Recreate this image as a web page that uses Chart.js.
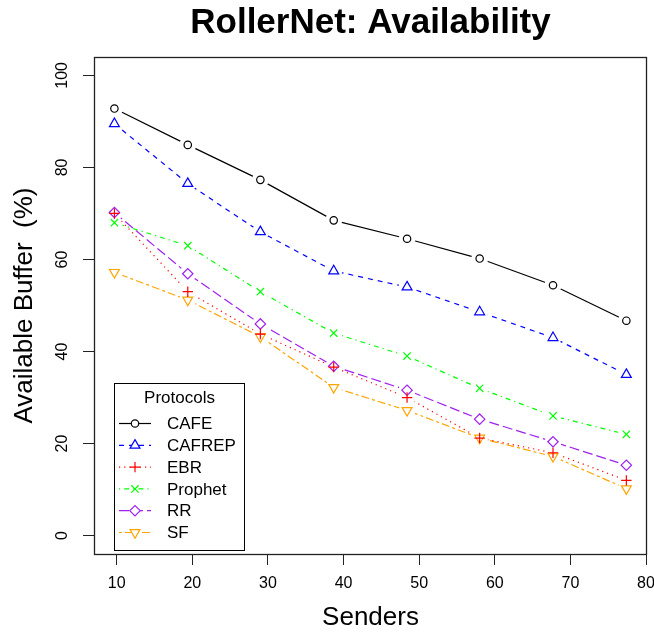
<!DOCTYPE html>
<html>
<head>
<meta charset="utf-8">
<script src="https://cdn.jsdelivr.net/npm/chart.js@4.4.0/dist/chart.umd.min.js"></script>
<style>
  html, body { margin: 0; padding: 0; background: #fff; }
  #wrap { width: 654px; height: 633px; }
</style>
</head>
<body>
<div id="wrap"><canvas id="chart" width="654" height="633"></canvas></div>
<script>
// values
const senders = [9.7, 19.4, 29.0, 38.7, 48.4, 58.0, 67.7, 77.4];
const cafe    = [92.8, 84.9, 77.3, 68.5, 64.5, 60.2, 54.4, 46.7];
const cafrep  = [89.5, 76.5, 66.0, 57.5, 54.0, 48.6, 43.0, 35.0];
const ebr     = [70.0, 53.0, 43.8, 36.6, 30.0, 21.2, 18.0, 12.0];
const prophet = [68.0, 63.0, 53.0, 44.0, 39.0, 32.0, 26.0, 22.0];
const rr      = [70.2, 56.9, 46.0, 36.8, 31.6, 25.3, 20.4, 15.3];
const sf      = [57.2, 51.2, 43.2, 32.2, 27.2, 21.2, 17.2, 10.2];

const protocols = ["CAFE", "CAFREP", "EBR", "Prophet", "RR", "SF"];
const xTicks = [10, 20, 30, 40, 50, 60, 70, 80];
const yTicks = [0, 20, 40, 60, 80, 100];

const STYLES = [
    { color: "#000000", dash: [],            point: "circle",   radius: 3.7, rotation: 0 },
    { color: "#0000ff", dash: [5, 5],        point: "triangle", radius: 5.7, rotation: 0 },
    { color: "#ff0000", dash: [1.2, 4],      point: "cross",    radius: 5.2, rotation: 0 },
    { color: "#00ff00", dash: [1.2, 4, 5, 4], point: "crossRot", radius: 5.2, rotation: 0 },
    { color: "#a020f0", dash: [10, 4],       point: "rectRot",  radius: 5.2, rotation: 0 },
    { color: "#ffa500", dash: [3, 3, 8, 3],  point: "triangle", radius: 5.7, rotation: 180 },
];
const GAP = 8.5;   // R type="b": lines stop short of the points
const FONT = "'Liberation Sans', Arial, Helvetica, sans-serif";

Chart.defaults.font.family = FONT;
Chart.defaults.color = "#000";

const seriesValues = [cafe, cafrep, ebr, prophet, rr, sf];
const datasets = [];
seriesValues.forEach((vals, i) => {
    const st = STYLES[i];
    const pts = senders.map((x, j) => ({ x: x, y: vals[j] }));
    datasets.push({
        label: protocols[i],
        data: pts,
        gapLine: true,
        borderColor: st.color,
        borderWidth: 1.2,
        borderDash: st.dash,
        pointRadius: 0,
        tension: 0,
        fill: false,
    });
    datasets.push({
        label: protocols[i] + " points",
        data: pts,
        showLine: false,
        pointStyle: st.point,
        pointRadius: st.radius,
        pointRotation: st.rotation,
        pointBorderColor: st.color,
        pointBackgroundColor: "rgba(0,0,0,0)",
        pointBorderWidth: 1.2,
    });
});

// cut holes round the points before a line dataset is drawn
const gapPlugin = {
    id: "gaps",
    beforeDatasetDraw(chart, args) {
        if (!chart.data.datasets[args.index].gapLine) return;
        const ctx = chart.ctx;
        ctx.save();
        ctx.beginPath();
        ctx.rect(0, 0, chart.width, chart.height);
        args.meta.data.forEach(p => {
            ctx.moveTo(p.x + GAP, p.y);
            ctx.arc(p.x, p.y, GAP, 0, Math.PI * 2);
        });
        ctx.clip("evenodd");
    },
    afterDatasetDraw(chart, args) {
        if (chart.data.datasets[args.index].gapLine) chart.ctx.restore();
    }
};

// plot frame + R style legend
const framePlugin = {
    id: "frame",
    afterDraw(chart) {
        const ctx = chart.ctx;
        const a = chart.chartArea;
        ctx.save();
        ctx.strokeStyle = "#222";
        ctx.lineWidth = 1.3;
        ctx.setLineDash([]);
        ctx.strokeRect(Math.round(a.left) + 0.5, Math.round(a.top) + 0.5,
                       Math.round(a.right - a.left) - 1, Math.round(a.bottom - a.top));

        // legend box
        const lx = 114.5, ly = 383.5, lw = 130, lh = 167;
        ctx.fillStyle = "#fff";
        ctx.fillRect(lx, ly, lw, lh);
        ctx.strokeStyle = "#000";
        ctx.lineWidth = 1;
        ctx.strokeRect(lx, ly, lw, lh);
        ctx.font = "17px " + FONT;
        ctx.fillStyle = "#000";
        ctx.textAlign = "center";
        ctx.textBaseline = "middle";
        ctx.fillText("Protocols", lx + lw / 2, 398);
        ctx.textAlign = "left";
        protocols.forEach((name, i) => {
            const st = STYLES[i];
            const y = 423.5 + i * 21.8;
            ctx.strokeStyle = st.color;
            ctx.lineWidth = 1.2;
            ctx.setLineDash(st.dash);
            ctx.beginPath();
            ctx.moveTo(119, y);
            ctx.lineTo(151, y);
            ctx.stroke();
            ctx.setLineDash([]);
            ctx.fillStyle = "#fff";
            Chart.helpers.drawPoint(ctx, {
                pointStyle: st.point, rotation: st.rotation,
                radius: st.radius, borderWidth: 1.2
            }, 135, y);
            ctx.fillStyle = "#000";
            ctx.fillText(name, 167, y + 1);
        });
        ctx.restore();
    }
};

new Chart(document.getElementById("chart"), {
    type: "line",
    data: { datasets },
    options: {
        responsive: false,
        animation: false,
        events: [],
        layout: { padding: { top: 0, right: 7, bottom: 0, left: 0 } },
        plugins: {
            legend: { display: false },
            tooltip: { enabled: false },
            title: {
                display: true,
                text: "RollerNet: Availability",
                fullSize: false,
                color: "#000",
                font: { size: 35, weight: "bold", lineHeight: 1 },
                padding: { top: 6, bottom: 16 },
            },
        },
        scales: {
            x: {
                type: "linear",
                min: 7.0,
                max: 80.13,
                afterBuildTicks: s => { s.ticks = xTicks.map(v => ({ value: v })); },
                afterFit: s => { s.height = 79; s.paddingLeft = 0; s.paddingRight = 0; },
                border: { display: false },
                grid: { drawOnChartArea: false, drawTicks: true, tickLength: 11, color: "#222", lineWidth: 1 },
                ticks: { padding: 9.4, autoSkip: false, maxRotation: 0, font: { size: 16 }, color: "#000" },
                title: { display: true, text: "Senders", color: "#000", font: { size: 26 }, padding: { top: 0, bottom: 0 } },
            },
            y: {
                type: "linear",
                min: -4,
                max: 104,
                afterBuildTicks: s => { s.ticks = yTicks.map(v => ({ value: v })); },
                afterFit: s => { s.width = 94; s.paddingTop = 0; s.paddingBottom = 0; },
                border: { display: false },
                grid: { drawOnChartArea: false, drawTicks: true, tickLength: 11, color: "#222", lineWidth: 1 },
                ticks: { padding: 6.6, autoSkip: false, minRotation: 90, maxRotation: 90, crossAlign: "center", font: { size: 16 }, color: "#000" },
                title: { display: true, text: "Available Buffer  (%)", color: "#000", font: { size: 26 }, padding: { top: 9, bottom: 0 } },
            },
        },
    },
    plugins: [gapPlugin, framePlugin],
});
</script>
</body>
</html>
